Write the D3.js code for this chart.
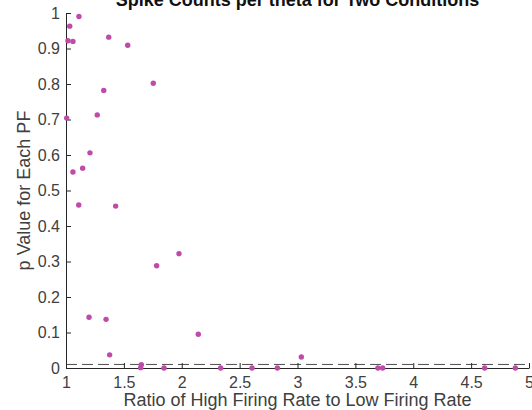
<!DOCTYPE html>
<html>
<head>
<meta charset="utf-8">
<script src="https://cdn.jsdelivr.net/npm/d3@7"></script>
<style>
  body { margin: 0; background: #fff; }
  svg { display: block; font-family: "Liberation Sans", Arial, Helvetica, sans-serif; }
</style>
</head>
<body>
<svg id="chart" width="532" height="410"></svg>
<script>
// ratio of high to low firing rate, one per place field
const ratio = [1.112, 1.032, 1.017, 1.06, 1.369, 1.533, 1.754, 1.326, 1.006, 1.27,
  1.207, 1.06, 1.144, 1.11, 1.429, 1.783, 1.976, 1.199, 1.346, 2.143, 1.377,
  1.651, 1.645, 1.847, 2.336, 2.607, 3.033, 2.826, 3.695, 3.736, 4.617, 4.882];
// p value for each place field
const pValue = [0.99, 0.963, 0.922, 0.92, 0.932, 0.909, 0.802, 0.782, 0.704, 0.713,
  0.606, 0.552, 0.563, 0.459, 0.456, 0.288, 0.322, 0.143, 0.137, 0.095, 0.037,
  0.009, 0.001, 0, 0, 0, 0.031, 0, 0, 0, 0, 0];
const xTicks = [1, 1.5, 2, 2.5, 3, 3.5, 4, 4.5, 5];
const yTicks = [0, 0.1, 0.2, 0.3, 0.4, 0.5, 0.6, 0.7, 0.8, 0.9, 1];
const threshold = 0.01;

const mLeft = 66, mRight = 529, mTop = 13, mBottom = 368;
const svg = d3.select('#chart');

const x = d3.scaleLinear().domain([1, 5]).range([mLeft, mRight]);
const y = d3.scaleLinear().domain([0, 1]).range([mBottom, mTop]);

const axisColor = '#262626';
const textColor = '#404040';

// threshold line
svg.append('line')
  .attr('x1', x(1)).attr('x2', x(5))
  .attr('y1', y(threshold)).attr('y2', y(threshold))
  .attr('stroke', '#4d4d4d')
  .attr('stroke-width', 1)
  .attr('stroke-dasharray', '11,5');

const xAxis = svg.append('g')
  .attr('transform', `translate(0,${mBottom})`)
  .call(d3.axisBottom(x).tickValues(xTicks).tickSizeInner(-5).tickSizeOuter(0)
    .tickFormat(d3.format('~g')));

const yAxis = svg.append('g')
  .attr('transform', `translate(${mLeft},0)`)
  .call(d3.axisLeft(y).tickValues(yTicks).tickSizeInner(-5).tickSizeOuter(0)
    .tickFormat(d3.format('~g')));

[xAxis, yAxis].forEach(a => {
  a.select('.domain').attr('stroke', axisColor);
  a.selectAll('.tick line').attr('stroke', axisColor);
  a.selectAll('.tick text')
    .attr('fill', textColor)
    .style('font-size', '16px')
    .style('font-family', '"Liberation Sans", Arial, sans-serif');
});
xAxis.selectAll('.tick text').attr('y', 9);
yAxis.selectAll('.tick text').attr('x', -6);

// points
svg.append('g')
  .selectAll('circle')
  .data(ratio.map((r, i) => [r, pValue[i]]))
  .enter().append('circle')
  .attr('cx', d => x(d[0]))
  .attr('cy', d => y(d[1]))
  .attr('r', 2.7)
  .attr('fill', '#bf4aa8');

// labels
svg.append('text')
  .attr('x', (mLeft + mRight) / 2)
  .attr('y', 406)
  .attr('text-anchor', 'middle')
  .style('font-size', '18px')
  .attr('fill', textColor)
  .text('Ratio of High Firing Rate to Low Firing Rate');

svg.append('text')
  .attr('transform', `translate(30,${(mTop + mBottom) / 2}) rotate(-90)`)
  .attr('text-anchor', 'middle')
  .style('font-size', '18px')
  .attr('fill', textColor)
  .text('p Value for Each PF');

svg.append('text')
  .attr('x', (mLeft + mRight) / 2)
  .attr('y', 6)
  .attr('text-anchor', 'middle')
  .style('font-size', '18px')
  .style('font-weight', 'bold')
  .attr('fill', '#111')
  .text('Spike Counts per theta for Two Conditions');
</script>
</body>
</html>
